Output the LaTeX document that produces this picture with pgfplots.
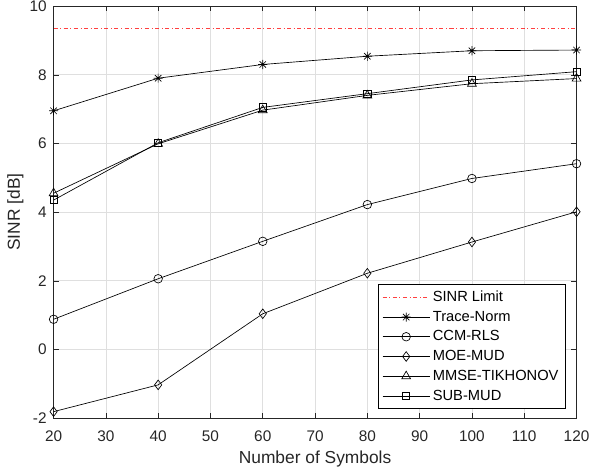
\documentclass[border=0pt]{standalone}
\usepackage{pgfplots}
\pgfplotsset{compat=1.18}
\usepackage{fontspec}
\setmainfont{Liberation Sans}
\definecolor{axgray}{RGB}{38,38,38}
\definecolor{gridgray}{RGB}{223,223,223}
% MATLAB-style asterisk: plus and cross together
\pgfdeclareplotmark{mstar}{%
  \pgfpathmoveto{\pgfqpoint{-\pgfplotmarksize}{0pt}}\pgfpathlineto{\pgfqpoint{\pgfplotmarksize}{0pt}}%
  \pgfpathmoveto{\pgfqpoint{0pt}{-\pgfplotmarksize}}\pgfpathlineto{\pgfqpoint{0pt}{\pgfplotmarksize}}%
  \pgfpathmoveto{\pgfqpoint{-.707\pgfplotmarksize}{-.707\pgfplotmarksize}}\pgfpathlineto{\pgfqpoint{.707\pgfplotmarksize}{.707\pgfplotmarksize}}%
  \pgfpathmoveto{\pgfqpoint{-.707\pgfplotmarksize}{.707\pgfplotmarksize}}\pgfpathlineto{\pgfqpoint{.707\pgfplotmarksize}{-.707\pgfplotmarksize}}%
  \pgfusepathqstroke}
\begin{document}
\begin{tikzpicture}
\begin{axis}[
    scale only axis,
    width=391.5pt,
    height=308.5pt,
    xmin=20, xmax=120,
    ymin=-2, ymax=10,
    xtick={20,30,...,120},
    ytick={-2,0,...,10},
    tick align=inside,
    tick pos=both,
    major tick length=4pt,
    grid=major,
    major grid style={gridgray, line width=0.5pt},
    axis line style={axgray, line width=0.5pt},
    every tick/.style={axgray},
    tick label style={axgray, inner sep=0.5pt, font=\fontsize{11.5}{13}\selectfont},
    label style={axgray, inner sep=0.5pt, font=\fontsize{13}{15}\selectfont},
    /pgf/number format/assume math mode=true,
    xticklabel style={yshift=-9pt},
    yticklabel style={xshift=-4.5pt},
    xlabel={Number of Symbols},
    ylabel={SINR [dB]},
    xlabel style={yshift=-5.5pt},
    ylabel style={yshift=3.3pt},
    legend style={
        at={(rel axis cs:0.979,0.022)}, anchor=south east,
        font=\fontsize{11}{13}\selectfont,
        draw=black, line width=0.5pt,
        row sep=1.6pt, inner xsep=3pt, inner ysep=3pt,
    },
    legend cell align={left},
    legend image code/.code={
        \draw[mark repeat=2, mark phase=2] plot coordinates {(0cm,0cm) (0.62cm,0cm) (1.24cm,0cm)};
    },
    mark size=3.2pt,
]
\addplot[red, opacity=0.75, line width=0.6pt, dashdotted] coordinates {(20,9.36) (120,9.36)};
\addlegendentry{SINR Limit}
\addplot[black, line width=0.5pt, mark=mstar, mark size=3.4pt] coordinates {
    (20,6.95) (40,7.90) (60,8.30) (80,8.54) (100,8.70) (120,8.72)};
\addlegendentry{Trace-Norm}
\addplot[black, line width=0.5pt, mark=o] coordinates {
    (20,0.88) (40,2.06) (60,3.15) (80,4.22) (100,4.98) (120,5.41)};
\addlegendentry{CCM-RLS}
\addplot[black, line width=0.5pt, mark=diamond, mark size=3.6pt] coordinates {
    (20,-1.81) (40,-1.03) (60,1.04) (80,2.22) (100,3.13) (120,4.01)};
\addlegendentry{MOE-MUD}
\addplot[black, line width=0.5pt, mark=triangle, mark size=3.8pt] coordinates {
    (20,4.55) (40,5.99) (60,6.97) (80,7.40) (100,7.74) (120,7.89)};
\addlegendentry{MMSE-TIKHONOV}
\addplot[black, line width=0.5pt, mark=square, mark size=2.7pt] coordinates {
    (20,4.35) (40,6.02) (60,7.05) (80,7.45) (100,7.85) (120,8.09)};
\addlegendentry{SUB-MUD}
\end{axis}
% white margin on the left and bottom, as in the figure
\path (current bounding box.south west) ++(-5pt,-2pt);
\end{tikzpicture}
\end{document}
